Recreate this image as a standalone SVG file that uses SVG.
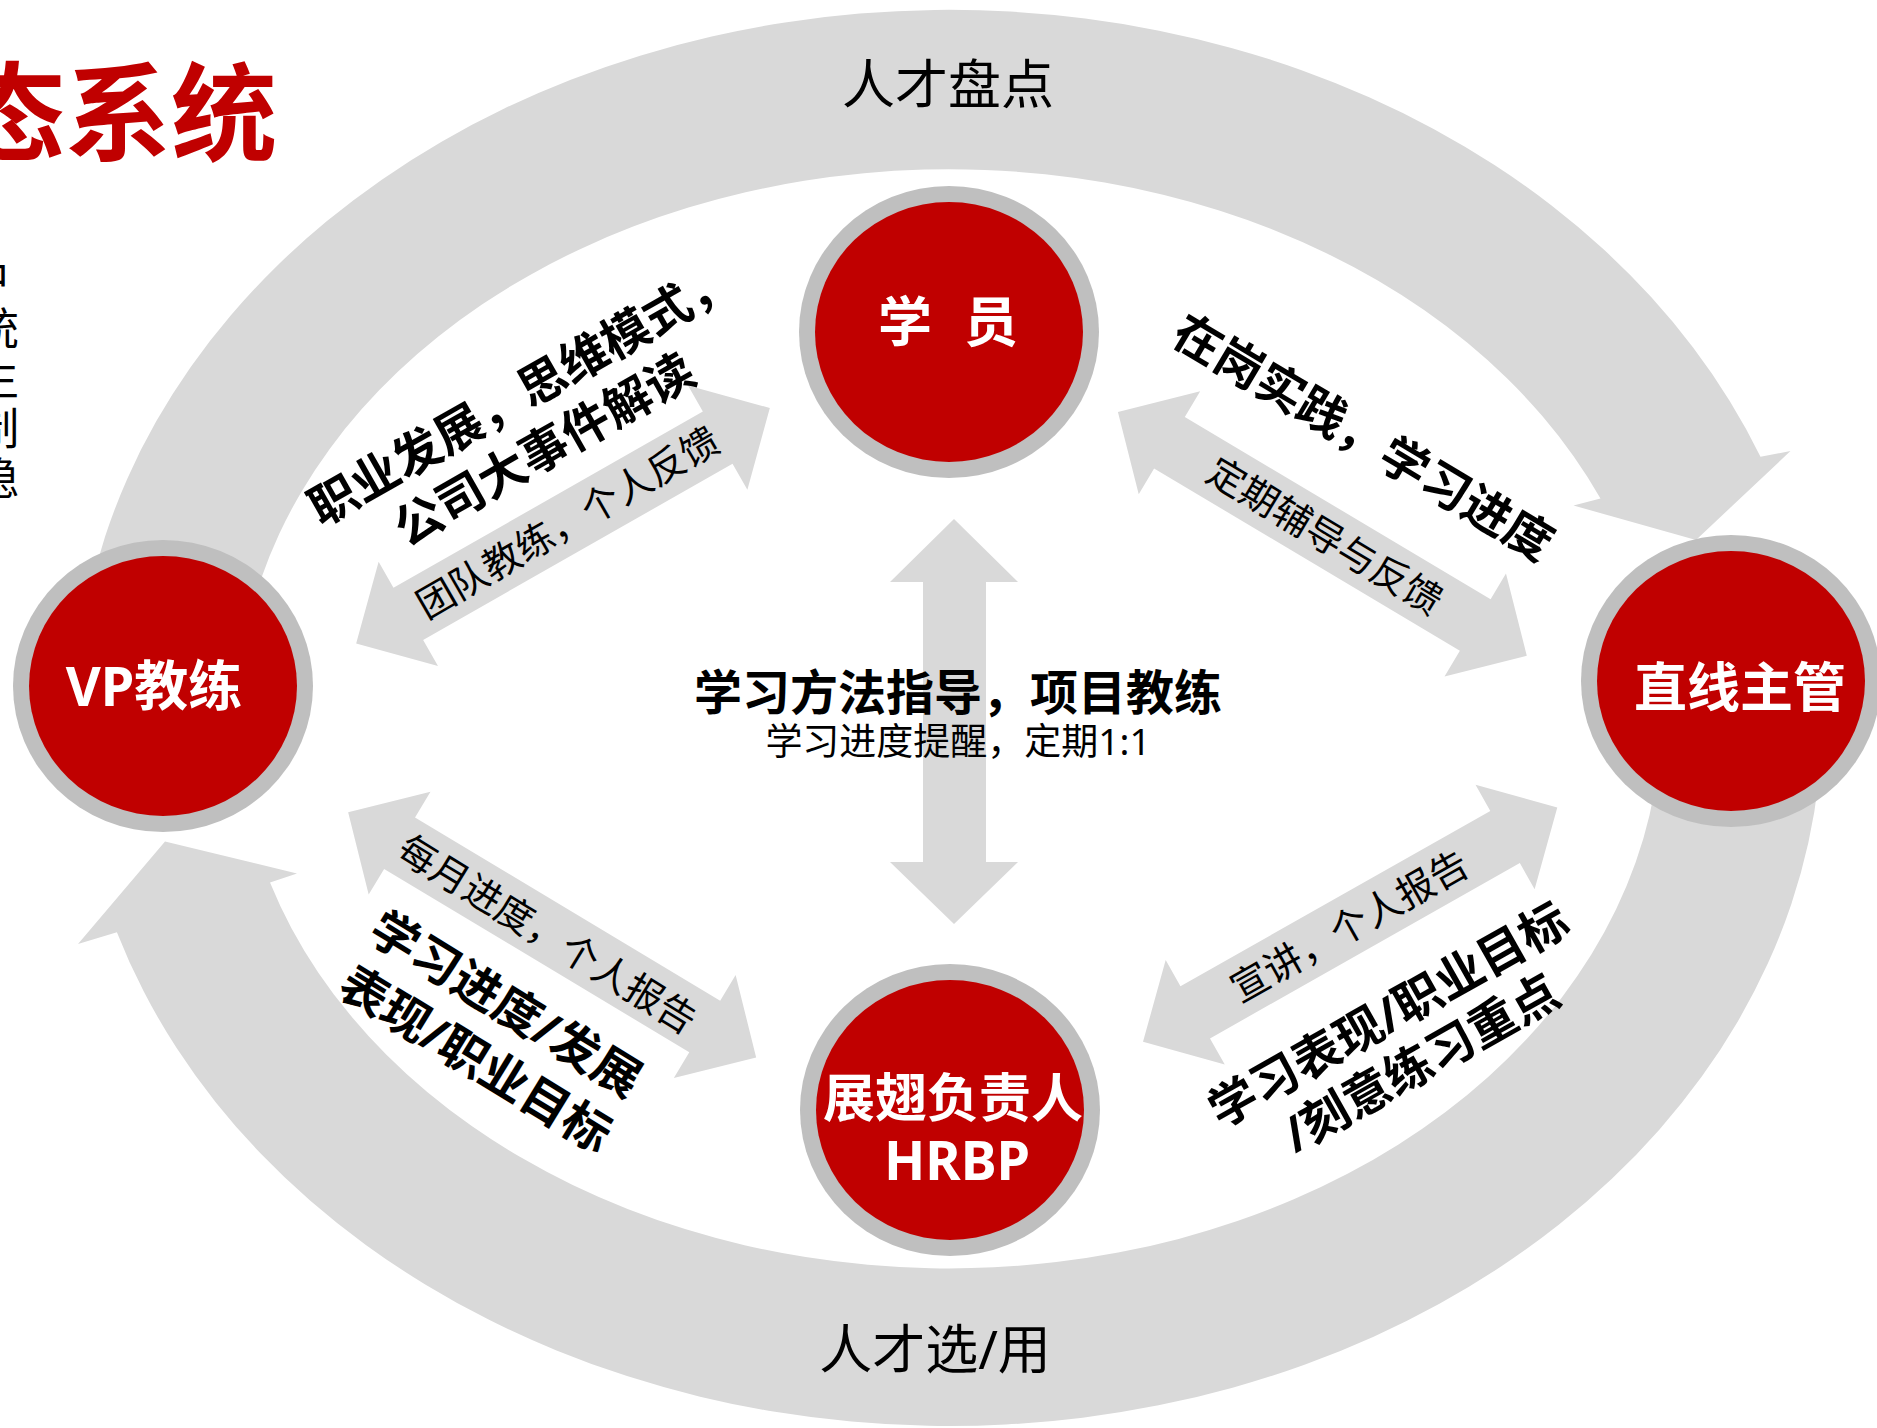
<svg xmlns="http://www.w3.org/2000/svg" width="1877" height="1428" viewBox="0 0 1877 1428">
<style>
.band{fill:#D9D9D9}
.ring{fill:#BFBFBF}
.core{fill:#C00000}
.t{font-family:"Noto Sans","Noto Sans CJK SC",sans-serif;fill:#000}
.b{font-weight:bold}
.w{fill:#FFFFFF;font-weight:bold;text-anchor:middle}
.m{text-anchor:middle}
</style>
<defs>
<path id="dbl" d="M-238,0 L-178,-60 L-178,-30 L178,-30 L178,-60 L238,0 L178,60 L178,30 L-178,30 L-178,60 Z"/>
</defs>
<rect x="0" y="0" width="1877" height="1428" fill="#FFFFFF"/>

<g id="title">
<text class="t b" x="277" y="152" font-size="106" font-weight="900" text-anchor="end" style="fill:#C00000">态系统</text>
</g>
<g id="side-text" class="t" font-size="44">
<text x="9" y="295" text-anchor="end">中</text>
<text x="19" y="345" text-anchor="end">统</text>
<text x="19" y="395" text-anchor="end">生</text>
<text x="19" y="445" text-anchor="end">制</text>
<text x="19" y="495" text-anchor="end">稳</text>
</g>

<g id="connectors">
<path id="arc-top" class="band" d="M76,718 A873 708 0 0 1 1760.5,456.8 L1790.5,451 L1696,540 L1573.5,505.5 L1600.5,498.6 A712 552 0 0 0 237,718 Z"/>
<path id="arc-bottom" class="band" d="M1822,718 A873 708 0 0 1 116.9,932.2 L78,944 L165,841.5 L297,873.4 L270,882.5 A712 552 0 0 0 1661,718 Z"/>
<use class="band" href="#dbl" transform="translate(563,525.75) rotate(-29.65)"/>
<use class="band" href="#dbl" transform="translate(1322.35,533.85) rotate(30.8)"/>
<use class="band" href="#dbl" transform="translate(552.15,934.85) rotate(31)"/>
<use class="band" href="#dbl" transform="translate(1350.15,924.65) rotate(-29.5)"/>
<path class="band" d="M954,519 L1018,582 L986,582 L986,862 L1018,862 L954,924 L890,862 L923,862 L923,582 L890,582 Z"/>
</g>

<g id="labels-cycle" class="t m" font-size="53">
<text x="948" y="104">人才盘点</text>
<text x="935" y="1369">人才选/用</text>
</g>

<g id="label-ul">
<g transform="translate(521.5,393.4) rotate(-29.65)" class="t b m" font-size="48">
<text x="0" y="17">职业发展，思维模式，</text>
<text x="-8" y="77">公司大事件解读</text>
</g>
<g transform="translate(567.5,522.5) rotate(-30)" class="t m" font-size="38">
<text x="0" y="14">团队教练，个人反馈</text>
</g>
</g>

<g id="label-ur">
<g transform="translate(1363.3,437.5) rotate(30.75)" class="t b m" font-size="48">
<text x="0" y="17">在岗实践，学习进度</text>
</g>
<g transform="translate(1325,535.8) rotate(31)" class="t m" font-size="38">
<text x="0" y="14">定期辅导与反馈</text>
</g>
</g>

<g id="label-ll">
<g transform="translate(547.5,934) rotate(31.5)" class="t m" font-size="38">
<text x="0" y="14">每月进度，个人报告</text>
</g>
<g transform="translate(505.8,1004.2) rotate(31.5)" class="t b m" font-size="48">
<text x="0" y="17">学习进度/发展</text>
<text x="3" y="80">表现/职业目标</text>
</g>
</g>

<g id="label-lr">
<g transform="translate(1349.2,925.8) rotate(-29.4)" class="t m" font-size="38">
<text x="0" y="14">宣讲，个人报告</text>
</g>
<g transform="translate(1388.3,1015) rotate(-29.4)" class="t b m" font-size="48">
<text x="0" y="17">学习表现/职业目标</text>
<text x="5" y="75">/刻意练习重点</text>
</g>
</g>

<g id="label-center" class="t m">
<text x="958" y="710" font-size="48" font-weight="bold">学习方法指导，项目教练</text>
<text x="958" y="755" font-size="37">学习进度提醒，定期1:1</text>
</g>

<g id="node-student">
<ellipse class="ring" cx="949" cy="332" rx="150" ry="146"/>
<ellipse class="core" cx="949" cy="332" rx="134" ry="130"/>
<text class="t w" x="948" y="342" font-size="54" word-spacing="18">学 员</text>
</g>

<g id="node-vp">
<ellipse class="ring" cx="163" cy="686" rx="150" ry="146"/>
<ellipse class="core" cx="163" cy="686" rx="134" ry="130"/>
<text class="t w" x="154" y="706" font-size="54">VP教练</text>
</g>

<g id="node-manager">
<ellipse class="ring" cx="1731" cy="681" rx="150" ry="146"/>
<ellipse class="core" cx="1731" cy="681" rx="134" ry="130"/>
<text class="t w" x="1740" y="707" font-size="53">直线主管</text>
</g>

<g id="node-hrbp">
<ellipse class="ring" cx="950" cy="1110" rx="150" ry="146"/>
<ellipse class="core" cx="950" cy="1110" rx="134" ry="130"/>
<text class="t w" x="953" y="1117" font-size="52">展翅负责人</text>
<text class="t w" x="957" y="1180" font-size="54">HRBP</text>
</g>
</svg>
